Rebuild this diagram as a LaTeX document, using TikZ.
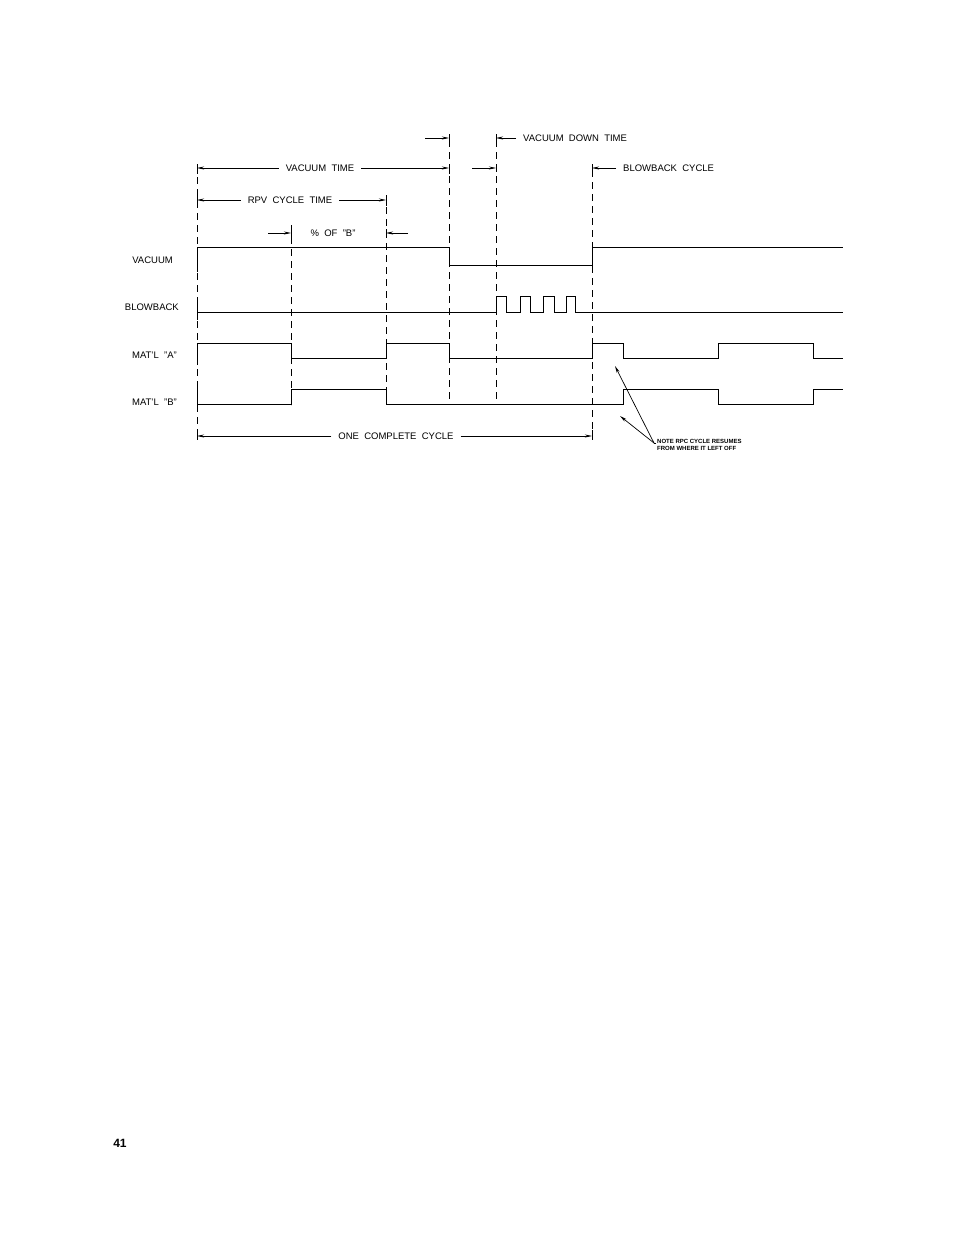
\documentclass[tikz,border=0pt]{standalone}
\usepackage{fontspec}
\setmainfont{Liberation Sans}
\usetikzlibrary{arrows.meta}
\tikzset{
  lbl/.style={font=\fontsize{9.5}{10}\selectfont, inner sep=1pt},
  dlbl/.style={lbl, inner xsep=7pt},
  note/.style={font=\bfseries\fontsize{6}{7}\selectfont, inner sep=1pt, align=left},
  sig/.style={line width=0.8pt},
  guide/.style={dashed, dash pattern=on 7pt off 5pt, line width=0.7pt},
  dim/.style={line width=0.7pt, -{Stealth[length=7pt,width=3pt]}},
}
\begin{document}
\begin{tikzpicture}[x=1pt,y=-1pt]
    \useasboundingbox (0,0) rectangle (954,1235);

    % Guide lines
    \draw[guide] (197,165) -- (197,440);
    \draw[guide] (291,225) -- (291,405);
    \draw[guide] (386,195) -- (386,405);
    \draw[guide] (449,140) -- (449,405);
    \draw[guide] (496,140) -- (496,405);
    \draw[guide] (592,170) -- (592,440);

    % Signal names
    \node[lbl, anchor=east] (nvac) at (174,260) {VACUUM};
    \node[lbl, anchor=east] (nblow) at (180,307) {BLOWBACK};
    \node[lbl, anchor=east] (na) at (178,355) {MAT'L ~"A"};
    \node[lbl, anchor=east] (nb) at (178,402) {MAT'L ~"B"};

    % Vacuum
    \draw[sig] (197,272) -- (197,247) -- (449,247) -- (449,265) -- (592,265)
        -- (592,247) -- (843,247);

    % Blowback
    \draw[sig] (197,300) -- (197,320);
    \draw[sig] (197,312) -- (496,312)
        \foreach \r/\f in {496/506,520/530,543/554,566/575} {
          -- (\r,312) -- (\r,296) -- (\f,296) -- (\f,312)
        } -- (843,312);

    % Material A
    \draw[sig] (197,365) -- (197,343) -- (291,343) -- (291,358) -- (386,358)
        -- (386,343) -- (449,343) -- (449,358) -- (592,358) -- (592,343)
        -- (623,343) -- (623,358) -- (718,358) -- (718,343) -- (813,343)
        -- (813,358) -- (843,358);

    % Material B
    \draw[sig] (197,382) -- (197,404) -- (291,404) -- (291,389) -- (386,389)
        -- (386,404) -- (623,404) -- (623,389) -- (718,389) -- (718,404)
        -- (813,404) -- (813,389) -- (843,389);

    % Dimension labels
    \node[dlbl] (tvac) at (320,168) {VACUUM ~TIME};
    \draw[dim] (tvac.west) -- (197,168);
    \draw[dim] (tvac.east) -- (449,168);
    \draw[line width=0.7pt] (197,164) -- (197,174) (449,164) -- (449,174);

    \node[dlbl] (trpv) at (290,200) {RPV ~CYCLE ~TIME};
    \draw[dim] (trpv.west) -- (197,200);
    \draw[dim] (trpv.east) -- (386,200);
    \draw[line width=0.7pt] (197,195) -- (197,205) (386,196) -- (386,206);

    \node[lbl] (tpct) at (333,233) {\% ~OF ~"B"};
    \coordinate (pl) at (268,233);
    \coordinate (pr) at (408,233);
    \draw[dim] (pl) -- (291,233);
    \draw[dim] (pr) -- (386,233);
    \draw[line width=0.7pt] (291,229) -- (291,237) (386,229) -- (386,237);

    \node[dlbl, anchor=west] (tdown) at (516,138) {VACUUM ~DOWN ~TIME};
    \coordinate (dl) at (425,138);
    \coordinate (dr) at (472,168);
    \draw[dim] (dl) -- (449,138);
    \draw[dim] (tdown.west) -- (496,138);
    \draw[dim] (dr) -- (496,168);
    \draw[line width=0.7pt] (449,134) -- (449,142) (496,134) -- (496,142) (496,164) -- (496,172);

    \node[dlbl, anchor=west] (tbb) at (616,168) {BLOWBACK ~CYCLE};
    \draw[dim] (tbb.west) -- (592,168);
    \draw[line width=0.7pt] (592,164) -- (592,174);

    \node[dlbl] (tone) at (396,436) {ONE ~COMPLETE ~CYCLE};
    \draw[dim] (tone.west) -- (197,436);
    \draw[dim] (tone.east) -- (592,436);
    \draw[line width=0.7pt] (197,430) -- (197,440) (592,430) -- (592,440);

    % Note
    \node[note, anchor=north west] (tnote) at (656,438) {NOTE RPC CYCLE RESUMES\\FROM WHERE IT LEFT OFF};
    \coordinate (nk) at (654,443);
    \draw[line width=0.7pt] (tnote.north west |- nk) -- (nk);
    \draw[dim] (nk) -- (615,366);
    \draw[dim] (nk) -- (620,416);

    % Page number
    \node[font=\bfseries\fontsize{12}{14}\selectfont] (page) at (120,1143) {41};

\end{tikzpicture}
\end{document}
